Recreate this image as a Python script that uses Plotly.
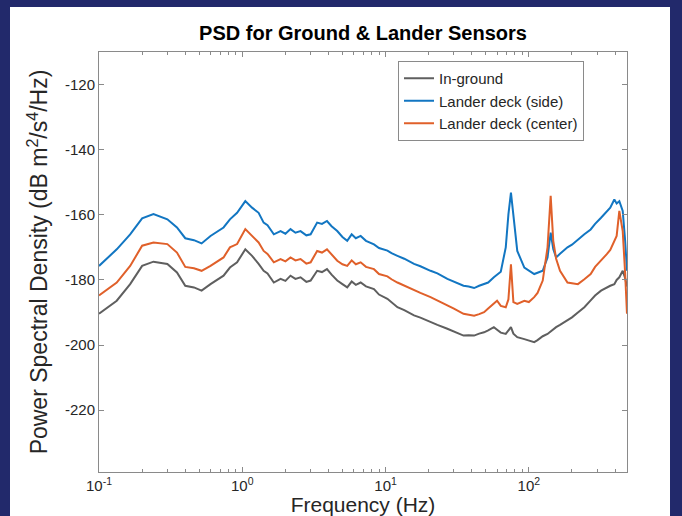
import plotly.graph_objects as go

# ---- data ----
freq_hz = [0.10, 0.133, 0.165, 0.20, 0.24, 0.30, 0.35, 0.40, 0.46, 0.52, 0.60, 0.74, 0.82, 0.92,
           1.05, 1.17, 1.30, 1.41, 1.5, 1.66, 1.85, 2.0, 2.17, 2.35, 2.55, 2.8, 3.0, 3.33, 3.6,
           3.9, 4.2, 4.6, 5.0, 5.4, 5.8, 6.2, 6.7, 7.3, 8.3, 9.0, 10.3, 11.0, 12.1, 13.5, 15.8,
           17.5, 20.6, 23, 27, 30, 35, 38, 41.5, 45, 48.7, 52, 57, 60, 63.7, 69, 72, 75, 78, 83,
           93, 100, 109, 115, 125, 135, 142, 148, 155, 165, 186, 200, 220, 244, 270, 290, 319,
           350, 370, 395, 410, 428, 452, 470, 484]

in_ground = [-190.4, -186.4, -181.3, -175.7, -174.4, -175.1, -177.7, -181.8, -182.3, -183.3,
             -181.3, -178.7, -176.2, -174.6, -170.6, -172.6, -175.1, -177.2, -178.0, -180.8,
             -179.7, -180.3, -178.7, -179.7, -179.2, -180.6, -180.2, -177.2, -177.6, -176.7,
             -178.4, -180.2, -181.3, -182.3, -180.5, -181.5, -180.8, -182.0, -182.8, -184.5,
             -185.8, -186.8, -188.4, -189.3, -190.9, -191.6, -193.0, -193.8, -195.0, -195.8,
             -197.1, -197.0, -197.1, -196.5, -196.1, -195.5, -194.5, -195.3, -196.2, -196.6,
             -195.5, -194.5, -196.5, -197.6, -198.2, -198.6, -199.1, -198.5, -197.3, -196.6,
             -195.8, -195.2, -194.5, -193.8, -192.5, -191.5, -190.0, -188.4, -186.3, -184.8,
             -183.3, -182.3, -181.8, -181.3, -180.0, -179.2, -177.2, -179.5, -182.0]

lander_side = [-175.7, -170.6, -166.0, -161.1, -159.8, -161.4, -163.9, -167.2, -167.8, -168.8,
               -166.5, -163.9, -161.4, -159.4, -155.8, -157.8, -159.4, -162.4, -163.2, -166.0,
               -165.0, -165.8, -164.4, -165.5, -165.0, -166.3, -166.0, -162.4, -162.8, -161.9,
               -163.5, -165.0, -166.8, -168.0, -166.0, -167.2, -166.5, -168.0, -169.1, -170.2,
               -171.0, -171.8, -172.6, -173.5, -175.1, -175.8, -177.2, -178.0, -179.7, -180.5,
               -181.8, -182.0, -182.5, -181.8, -181.3, -180.8, -179.2, -178.5, -177.5, -170.0,
               -159.9, -153.2, -160.9, -171.1, -176.2, -177.0, -178.2, -177.8, -177.2, -173.1,
               -165.5, -170.5, -173.1, -172.0, -170.0, -169.2, -167.8, -166.0, -164.5, -162.8,
               -160.9, -159.0, -157.8, -155.3, -156.5, -155.8, -158.8, -168.0, -177.2]

lander_center = [-184.8, -180.8, -175.7, -169.5, -168.5, -169.0, -171.6, -176.0, -176.4, -177.2,
                 -175.7, -173.1, -170.0, -169.0, -164.4, -166.5, -168.5, -171.1, -172.0, -174.6,
                 -173.6, -174.3, -173.1, -174.0, -173.6, -175.0, -174.6, -171.1, -171.6, -170.6,
                 -172.3, -174.1, -175.2, -175.7, -174.0, -175.2, -174.6, -176.0, -176.7, -178.2,
                 -178.9, -179.8, -180.8, -181.8, -183.3, -184.0, -185.3, -186.3, -187.9, -188.8,
                 -190.4, -190.6, -191.0, -190.5, -189.9, -188.8, -187.4, -186.4, -188.0, -188.4,
                 -186.0, -175.2, -186.8, -187.4, -186.4, -186.8, -185.3, -184.0, -180.2, -170.0,
                 -154.2, -168.0, -173.5, -177.2, -180.8, -181.0, -181.3, -179.8, -178.2, -176.0,
                 -174.1, -172.1, -170.8, -168.0, -166.5, -158.8, -165.0, -178.0, -190.4]

series_names = ["In-ground", "Lander deck (side)", "Lander deck (center)"]
series_values = [in_ground, lander_side, lander_center]
series_colors = ["#5f5f5f", "#1276c2", "#e0602a"]

x_tick_vals = [0.1, 1, 10, 100]
x_tick_text = ["10<sup>-1</sup>", "10<sup>0</sup>", "10<sup>1</sup>", "10<sup>2</sup>"]
x_minor_vals = [0.2, 0.3, 0.4, 0.5, 0.6, 0.7, 0.8, 0.9,
                2, 3, 4, 5, 6, 7, 8, 9,
                20, 30, 40, 50, 60, 70, 80, 90,
                200, 300, 400]
y_tick_vals = [-220, -200, -180, -160, -140, -120]
y_tick_text = ["-220", "-200", "-180", "-160", "-140", "-120"]

FONT = "Liberation Sans, Arial, sans-serif"

fig = go.Figure()
for name, vals, col in zip(series_names, series_values, series_colors):
    fig.add_trace(go.Scatter(x=freq_hz, y=vals, mode="lines", name=name,
                             line=dict(color=col, width=2)))

W, H = 682, 516
L, R, T, B = 99, 55, 52, 44
pw, ph = W - L - R, H - T - B

def px2paper_x(px):
    return (px - L) / pw

def px2paper_y(py):
    return (H - B - py) / ph

fig.add_shape(type="rect", xref="paper", yref="paper",
              x0=px2paper_x(10), x1=px2paper_x(670), y0=px2paper_y(516), y1=px2paper_y(7),
              fillcolor="white", line=dict(width=0), layer="below")

axis_common = dict(showline=True, linecolor="#8a8a8a", linewidth=1, mirror="ticks",
                   ticks="inside", ticklen=5, tickcolor="#8a8a8a", showgrid=False,
                   zeroline=False, tickfont=dict(family=FONT, size=15, color="#262626"))

fig.update_layout(
    width=W, height=H,
    margin=dict(l=L, r=R, t=T, b=B, autoexpand=False),
    paper_bgcolor="#22296b",
    plot_bgcolor="white",
    title=dict(text="<b>PSD for Ground & Lander Sensors</b>", x=px2paper_x(363), xref="paper",
               xanchor="center", y=1 - 33 / H, yanchor="middle",
               font=dict(family=FONT, size=20, color="black")),
    xaxis=dict(type="log", range=[-1, 2.685], tickvals=x_tick_vals, ticktext=x_tick_text,
               minor=dict(tickvals=x_minor_vals, ticks="inside", ticklen=3,
                          tickcolor="#8a8a8a", showgrid=False),
               title=dict(text="Frequency (Hz)", standoff=9,
                          font=dict(family=FONT, size=21, color="#262626")),
               **axis_common),
    yaxis=dict(range=[-239, -110], tickvals=y_tick_vals, ticktext=y_tick_text,
               title=dict(text="Power Spectral Density (dB m<sup>2</sup>/s<sup>4</sup>/Hz)",
                          standoff=10, font=dict(family=FONT, size=23, color="#262626")),
               **axis_common),
    legend=dict(x=px2paper_x(398), y=px2paper_y(61), xanchor="left", yanchor="top",
                bgcolor="white", bordercolor="#8a8a8a", borderwidth=1,
                font=dict(family=FONT, size=15, color="#262626"),
                tracegroupgap=0, itemwidth=30),
    showlegend=True,
)

fig.write_html("out.html")
